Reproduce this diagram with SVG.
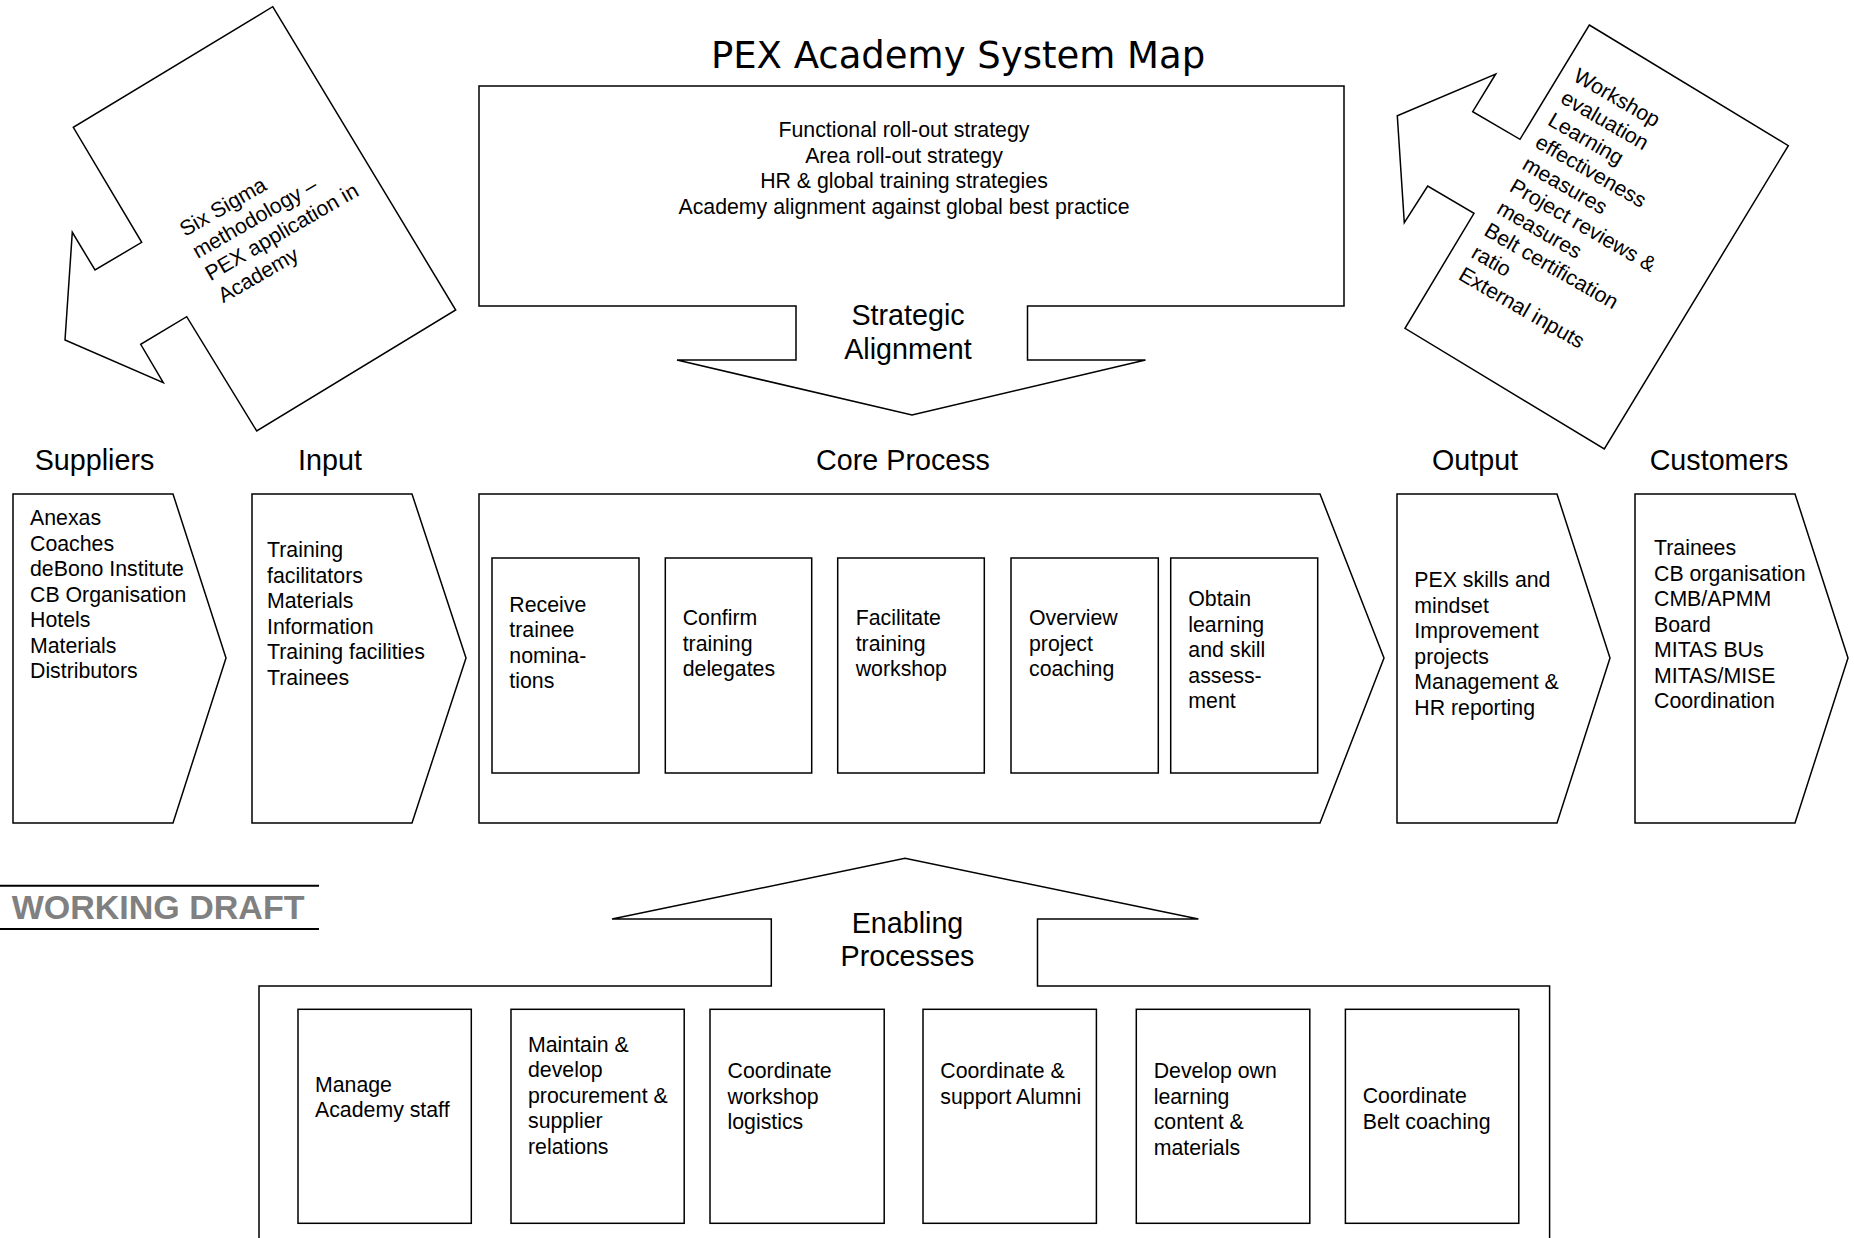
<svg xmlns="http://www.w3.org/2000/svg" width="1854" height="1238" viewBox="0 0 1854 1238">
<style>
.sh{fill:#fff;stroke:#000;stroke-width:1.5;stroke-linejoin:miter}
.t{font-family:"Liberation Sans",Arial,sans-serif;font-size:21.3px;fill:#000}
.h{font-family:"Liberation Sans",Arial,sans-serif;font-size:28.7px;fill:#000}
.c{text-anchor:middle}
</style>
<rect width="1854" height="1238" fill="#fff"/>
<g id="title"><text x="958" y="68" font-family="'DejaVu Sans',Verdana,sans-serif" font-size="37px" text-anchor="middle">PEX Academy System Map</text></g>

<g id="six-sigma">
<polygon class="sh" points="272.7,6.7 455.7,310 256.7,431 186.7,316.7 140.7,344.3 163.3,382.7 65,340 72.3,232.3 95,270 141.7,242.3 73.3,127.3"/>
<text class="t" transform="translate(185,237) rotate(-30)"><tspan x="0" y="0">Six Sigma</tspan><tspan x="0" y="25.5">methodology –</tspan><tspan x="0" y="51">PEX application in</tspan><tspan x="0" y="76.5">Academy</tspan></text>
</g>

<g id="feedback">
<polygon class="sh" points="1589.3,25 1788.3,145.7 1604.3,449 1405,328.3 1474,213.3 1427.7,186 1404.3,222.7 1397.3,115.7 1495.7,74 1472.7,111.7 1520,139.3"/>
<text class="t" transform="translate(1572,80) rotate(30)"><tspan x="0" y="0">Workshop</tspan><tspan x="0" y="25.5">evaluation</tspan><tspan x="0" y="51">Learning</tspan><tspan x="0" y="76.5">effectiveness</tspan><tspan x="0" y="102">measures</tspan><tspan x="0" y="127.5">Project reviews &amp;</tspan><tspan x="0" y="153">measures</tspan><tspan x="0" y="178.5">Belt certification</tspan><tspan x="0" y="204">ratio</tspan><tspan x="0" y="229.5">External inputs</tspan></text>
</g>

<g id="strategic-alignment">
<path class="sh" d="M479,86 H1344 V306 H1027.5 V360 H1145.5 L912,415 L677,360 H796 V306 H479 Z"/>
<text class="t c"><tspan x="904" y="137">Functional roll-out strategy</tspan><tspan x="904" y="162.5">Area roll-out strategy</tspan><tspan x="904" y="188">HR &amp; global training strategies</tspan><tspan x="904" y="213.5">Academy alignment against global best practice</tspan></text>
<text class="h c"><tspan x="908" y="325">Strategic</tspan><tspan x="908" y="359">Alignment</tspan></text>
</g>

<g id="suppliers">
<text class="h c" x="94.5" y="470">Suppliers</text>
<polygon class="sh" points="13,494 173,494 226,658 173,823 13,823"/>
<text class="t"><tspan x="30" y="525">Anexas</tspan><tspan x="30" y="550.5">Coaches</tspan><tspan x="30" y="576">deBono Institute</tspan><tspan x="30" y="601.5">CB Organisation</tspan><tspan x="30" y="627">Hotels</tspan><tspan x="30" y="652.5">Materials</tspan><tspan x="30" y="678">Distributors</tspan></text>
</g>

<g id="input">
<text class="h c" x="330" y="470">Input</text>
<polygon class="sh" points="252,494 412,494 466,658 412,823 252,823"/>
<text class="t"><tspan x="267" y="557">Training</tspan><tspan x="267" y="582.5">facilitators</tspan><tspan x="267" y="608">Materials</tspan><tspan x="267" y="633.5">Information</tspan><tspan x="267" y="659">Training facilities</tspan><tspan x="267" y="684.5">Trainees</tspan></text>
</g>

<g id="core-process">
<text class="h c" x="903" y="470">Core Process</text>
<polygon class="sh" points="479,494 1320,494 1384,658 1320,823 479,823"/>
<g id="core-1"><rect class="sh" x="492" y="558" width="147" height="215"/>
<text class="t"><tspan x="509.3" y="611.7">Receive</tspan><tspan x="509.3" y="637.2">trainee</tspan><tspan x="509.3" y="662.7">nomina-</tspan><tspan x="509.3" y="688.2">tions</tspan></text></g>
<g id="core-2"><rect class="sh" x="665.3" y="558" width="146.4" height="215"/>
<text class="t"><tspan x="682.7" y="625">Confirm</tspan><tspan x="682.7" y="650.5">training</tspan><tspan x="682.7" y="676">delegates</tspan></text></g>
<g id="core-3"><rect class="sh" x="837.7" y="558" width="146.6" height="215"/>
<text class="t"><tspan x="855.7" y="625">Facilitate</tspan><tspan x="855.7" y="650.5">training</tspan><tspan x="855.7" y="676">workshop</tspan></text></g>
<g id="core-4"><rect class="sh" x="1011" y="558" width="147.3" height="215"/>
<text class="t"><tspan x="1029" y="625">Overview</tspan><tspan x="1029" y="650.5">project</tspan><tspan x="1029" y="676">coaching</tspan></text></g>
<g id="core-5"><rect class="sh" x="1170.7" y="558" width="147" height="215"/>
<text class="t"><tspan x="1188.3" y="606">Obtain</tspan><tspan x="1188.3" y="631.5">learning</tspan><tspan x="1188.3" y="657">and skill</tspan><tspan x="1188.3" y="682.5">assess-</tspan><tspan x="1188.3" y="708">ment</tspan></text></g>
</g>

<g id="output">
<text class="h c" x="1475" y="470">Output</text>
<polygon class="sh" points="1397,494 1557,494 1610,658 1557,823 1397,823"/>
<text class="t"><tspan x="1414.3" y="587.3">PEX skills and</tspan><tspan x="1414.3" y="612.8">mindset</tspan><tspan x="1414.3" y="638.3">Improvement</tspan><tspan x="1414.3" y="663.8">projects</tspan><tspan x="1414.3" y="689.3">Management &amp;</tspan><tspan x="1414.3" y="714.8">HR reporting</tspan></text>
</g>

<g id="customers">
<text class="h c" x="1719" y="470">Customers</text>
<polygon class="sh" points="1635,494 1795,494 1848,658 1795,823 1635,823"/>
<text class="t"><tspan x="1654" y="555">Trainees</tspan><tspan x="1654" y="580.5">CB organisation</tspan><tspan x="1654" y="606">CMB/APMM</tspan><tspan x="1654" y="631.5">Board</tspan><tspan x="1654" y="657">MITAS BUs</tspan><tspan x="1654" y="682.5">MITAS/MISE</tspan><tspan x="1654" y="708">Coordination</tspan></text>
</g>

<g id="working-draft">
<line x1="0" y1="885.7" x2="319" y2="885.7" stroke="#000" stroke-width="2"/>
<line x1="0" y1="929" x2="319" y2="929" stroke="#000" stroke-width="2"/>
<text x="11.7" y="919.3" font-family="'Liberation Sans',Arial,sans-serif" font-size="34px" font-weight="bold" fill="#808080">WORKING DRAFT</text>
</g>

<g id="enabling-processes">
<path class="sh" d="M259,1245 V986 H771.3 V919 H612 L905,858.3 L1198.4,919 H1037.5 V986 H1549.6 V1245"/>
<text class="h c"><tspan x="907.5" y="932.7">Enabling</tspan><tspan x="907.5" y="966">Processes</tspan></text>
<g id="enab-1"><rect class="sh" x="298" y="1009.3" width="173.3" height="214"/>
<text class="t"><tspan x="315" y="1091.7">Manage</tspan><tspan x="315" y="1117.2">Academy staff</tspan></text></g>
<g id="enab-2"><rect class="sh" x="511" y="1009.3" width="173.2" height="214"/>
<text class="t"><tspan x="528" y="1051.7">Maintain &amp;</tspan><tspan x="528" y="1077.2">develop</tspan><tspan x="528" y="1102.7">procurement &amp;</tspan><tspan x="528" y="1128.2">supplier</tspan><tspan x="528" y="1153.7">relations</tspan></text></g>
<g id="enab-3"><rect class="sh" x="710" y="1009.3" width="174.2" height="214"/>
<text class="t"><tspan x="727.5" y="1078.3">Coordinate</tspan><tspan x="727.5" y="1103.8">workshop</tspan><tspan x="727.5" y="1129.3">logistics</tspan></text></g>
<g id="enab-4"><rect class="sh" x="923" y="1009.3" width="173.4" height="214"/>
<text class="t"><tspan x="940.3" y="1078.3">Coordinate &amp;</tspan><tspan x="940.3" y="1103.8">support Alumni</tspan></text></g>
<g id="enab-5"><rect class="sh" x="1136.3" y="1009.3" width="173.5" height="214"/>
<text class="t"><tspan x="1153.7" y="1078.3">Develop own</tspan><tspan x="1153.7" y="1103.8">learning</tspan><tspan x="1153.7" y="1129.3">content &amp;</tspan><tspan x="1153.7" y="1154.8">materials</tspan></text></g>
<g id="enab-6"><rect class="sh" x="1345.4" y="1009.3" width="173.4" height="214"/>
<text class="t"><tspan x="1362.7" y="1103.3">Coordinate</tspan><tspan x="1362.7" y="1128.8">Belt coaching</tspan></text></g>
</g>

<g id="connectors"></g>
</svg>
